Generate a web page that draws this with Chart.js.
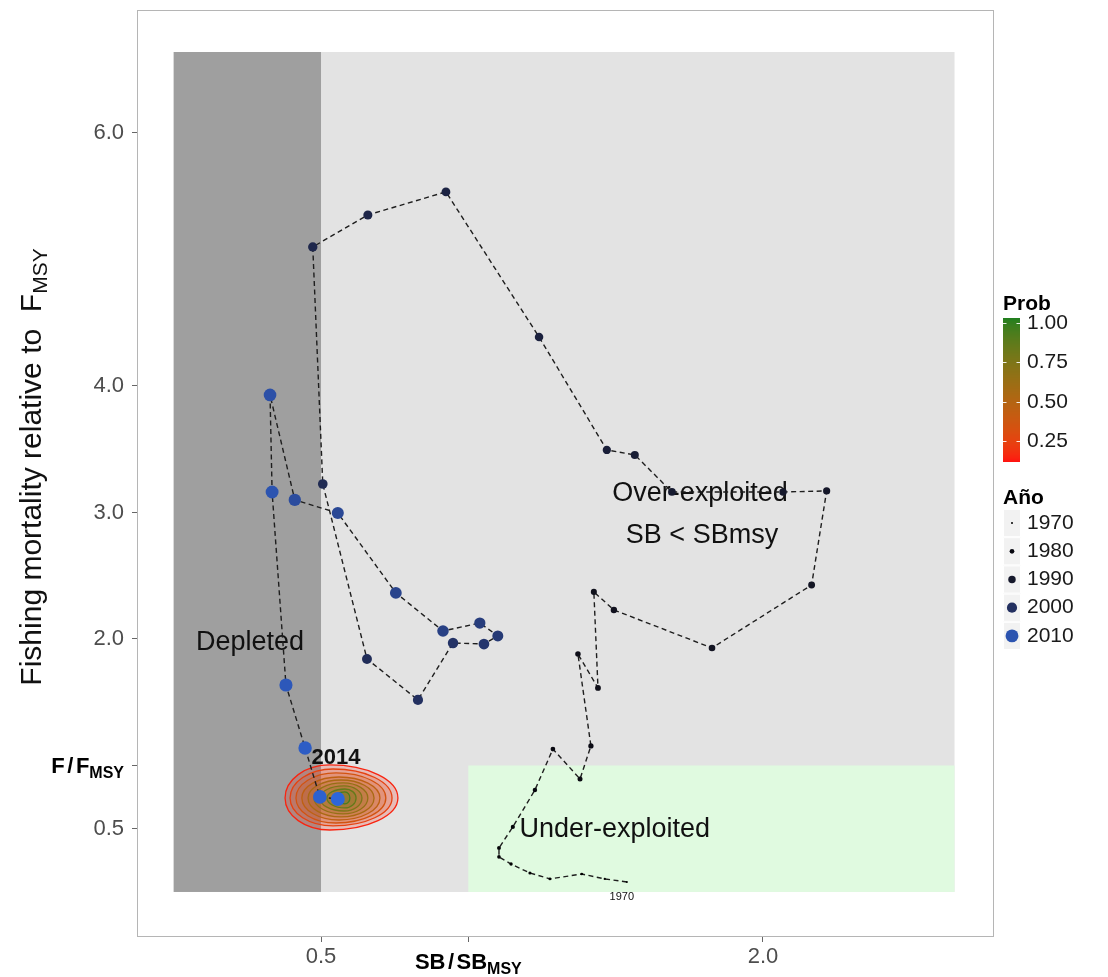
<!DOCTYPE html>
<html><head><meta charset="utf-8">
<script src="https://cdn.jsdelivr.net/npm/chart.js@4.4.1/dist/chart.umd.min.js"></script>
<style>html,body{margin:0;padding:0;background:#fff;}#wrap{width:1108px;height:977px;}</style>
</head><body><div id="wrap"><canvas id="c" width="1108" height="977"></canvas></div>
<script>
// ---------------- DATA ----------------
const years   = [1970,1971,1972,1973,1974,1975,1976,1977,1978,1979,
                 1980,1981,1982,1983,1984,1985,1986,1987,1988,1989,
                 1990,1991,1992,1993,1994,1995,1996,1997,1998,1999,
                 2000,2001,2002,2003,2004,2005,2006,2007,2008,2009,
                 2010,2011,2012,2013,2014];
const sbRatio = [1.538,1.463,1.385,1.277,1.209,1.145,1.104,1.104,1.151,1.226,
                 1.287,1.379,1.416,1.372,1.440,1.426,1.494,1.827,2.165,2.216,
                 2.068,1.691,1.565,1.470,1.240,0.924,0.659,0.472,0.506,0.656,
                 0.829,0.948,1.053,1.100,1.039,0.914,0.754,0.557,0.411,0.327,
                 0.334,0.381,0.446,0.496,0.557];
const fRatio  = [0.079,0.103,0.142,0.103,0.150,0.221,0.277,0.348,0.514,0.806,
                 1.130,0.893,1.154,1.881,1.613,2.372,2.229,1.929,2.427,3.170,
                 3.162,3.162,3.455,3.494,4.387,5.534,5.352,5.099,3.225,1.842,
                 1.518,1.968,1.960,2.024,2.126,2.063,2.364,2.996,3.099,3.929,
                 3.162,1.636,1.138,0.751,0.735];

const xTickValues = [0.5, 1.0, 2.0];
const xTickLabels = ['0.5', ['SB', '/', 'SB', 'MSY'], '2.0'];
const yTickValues = [0.5, 1.0, 2.0, 3.0, 4.0, 6.0];
const yTickLabels = ['0.5', ['F', '/', 'F', 'MSY'], '2.0', '3.0', '4.0', '6.0'];

// status zones (SB/SBmsy from-to, F/Fmsy from-to)
const zoneNames = ['Over-exploited', 'Depleted', 'Under-exploited'];
const zoneX0 = [0.0, 0.0, 1.0];
const zoneX1 = [2.65, 0.5, 2.65];
const zoneY0 = [0.0, 0.0, 0.0];
const zoneY1 = [6.64, 6.64, 1.0];

// 2014 probability contours (outer -> inner)
const contourProb   = [0.15,0.25,0.35,0.45,0.55,0.65,0.75,0.85,0.95];
const contourLeft   = [0.378,0.395,0.415,0.435,0.456,0.476,0.496,0.520,0.544];
const contourRight  = [0.761,0.741,0.720,0.700,0.680,0.659,0.639,0.619,0.598];
const contourTop    = [1.004,0.972,0.941,0.909,0.885,0.862,0.838,0.814,0.791];
const contourBottom = [0.490,0.522,0.545,0.569,0.593,0.617,0.640,0.664,0.696];
const contourCx     = [0.530,0.541,0.551,0.561,0.568,0.575,0.578,0.581,0.581];
const contourCy     = [0.743,0.743,0.743,0.743,0.743,0.743,0.743,0.743,0.743];

const probLegendTicks = [1.00, 0.75, 0.50, 0.25];
const probLegendRange = [0.12, 1.03];
const yearLegend = [1970, 1980, 1990, 2000, 2010];

// ---------------- STYLE ----------------
const FONT = '"Liberation Sans", Arial, Helvetica, sans-serif';
const X_MIN = -0.1245, X_MAX = 2.784, Y_MIN = -0.356, Y_MAX = 6.972;
const zoneColors = ['#e3e3e3', '#9f9f9f', '#e0fae0'];

function hex2rgb(h){return [parseInt(h.slice(1,3),16),parseInt(h.slice(3,5),16),parseInt(h.slice(5,7),16)];}
function lin(c){c/=255;return c<=0.04045?c/12.92:Math.pow((c+0.055)/1.055,2.4);}
function unlin(c){c=c<=0.0031308?12.92*c:1.055*Math.pow(c,1/2.4)-0.055;return Math.round(Math.max(0,Math.min(1,c))*255);}
function rgb2lab(rgb){const [r,g,b]=rgb.map(lin);const X=(0.4124*r+0.3576*g+0.1805*b)/0.95047,Y=(0.2126*r+0.7152*g+0.0722*b),Z=(0.0193*r+0.1192*g+0.9505*b)/1.08883;const f=t=>t>0.008856?Math.cbrt(t):7.787*t+16/116;const fx=f(X),fy=f(Y),fz=f(Z);return [116*fy-16,500*(fx-fy),200*(fy-fz)];}
function lab2rgb(l){const [L,a,b]=l;const fy=(L+16)/116,fx=fy+a/500,fz=fy-b/200;const g=t=>t*t*t>0.008856?t*t*t:(t-16/116)/7.787;const X=g(fx)*0.95047,Y=g(fy),Z=g(fz)*1.08883;const r=3.2406*X-1.5372*Y-0.4986*Z,gg=-0.9689*X+1.8758*Y+0.0415*Z,bb=0.0557*X-0.2040*Y+1.0570*Z;return [unlin(r),unlin(gg),unlin(bb)];}
function mixLab(h1,h2,t){const a=rgb2lab(hex2rgb(h1)),b=rgb2lab(hex2rgb(h2));return lab2rgb(a.map((v,i)=>v+(b[i]-v)*t));}
function rgbStr(c,a){return a===undefined?`rgb(${c[0]},${c[1]},${c[2]})`:`rgba(${c[0]},${c[1]},${c[2]},${a})`;}

const yr0 = years[0], yr1 = years[years.length-1];
function yearT(y){return (y-yr0)/(yr1-yr0);}
function yearColor(y){return rgbStr(mixLab('#000000','#2d66da',Math.pow(yearT(y),2.0)));}
function yearRadius(y){return 1.0 + 6.0*yearT(y);}
function probColor(p,a){const t=(p-probLegendRange[0])/(probLegendRange[1]-probLegendRange[0]);return rgbStr(mixLab('#ff1010','#1f7f1f',Math.max(0,Math.min(1,t))),a);}

function drawParts(ctx, parts, x, y, align){
  let w = 0;
  parts.forEach(p=>{ctx.font=p.font; p.w=ctx.measureText(p.t).width; w+=p.w+(p.gap||0);});
  let cx = align==='right' ? x-w : align==='center' ? x-w/2 : x;
  ctx.textAlign='left'; ctx.textBaseline='alphabetic';
  parts.forEach(p=>{ctx.font=p.font; cx+=(p.gap||0)/2; ctx.fillText(p.t,cx,y+(p.dy||0)); cx+=p.w+(p.gap||0)/2;});
}
function richParts(arr, size, subSize){
  return [
    {t:arr[0], font:`bold ${size}px ${FONT}`},
    {t:arr[1], font:`bold ${size}px ${FONT}`, gap:5},
    {t:arr[2], font:`bold ${size}px ${FONT}`},
    {t:arr[3], font:`bold ${subSize}px ${FONT}`, dy:5}
  ];
}

const bgPlugin = {
  id:'bg',
  beforeDatasetsDraw(chart){
    const {ctx, chartArea:a, scales:{x,y}} = chart;
    ctx.save();
    ctx.fillStyle='#ffffff'; ctx.fillRect(a.left,a.top,a.right-a.left,a.bottom-a.top);
    ctx.beginPath(); ctx.rect(a.left,a.top,a.right-a.left,a.bottom-a.top); ctx.clip();
    zoneNames.forEach((n,i)=>{
      const x0=x.getPixelForValue(zoneX0[i]), x1=x.getPixelForValue(zoneX1[i]);
      const y0=y.getPixelForValue(zoneY0[i]), y1=y.getPixelForValue(zoneY1[i]);
      ctx.fillStyle=zoneColors[i]; ctx.fillRect(x0,y1,x1-x0,y0-y1);
    });
    ctx.fillStyle='#111'; ctx.font=`27px ${FONT}`; ctx.textAlign='center'; ctx.textBaseline='middle';
    ctx.fillText('Depleted', x.getPixelForValue(0.259), y.getPixelForValue(1.968));
    ctx.fillText('Over-exploited', x.getPixelForValue(1.786), y.getPixelForValue(3.146));
    ctx.fillText('SB < SBmsy', x.getPixelForValue(1.793), y.getPixelForValue(2.814));
    ctx.fillText('Under-exploited', x.getPixelForValue(1.497), y.getPixelForValue(0.49));
    const k=0.5523;
    contourProb.forEach((p,i)=>{
      const L=x.getPixelForValue(contourLeft[i]), R=x.getPixelForValue(contourRight[i]);
      const T=y.getPixelForValue(contourTop[i]), B=y.getPixelForValue(contourBottom[i]);
      const cx=x.getPixelForValue(contourCx[i]), cy=y.getPixelForValue(contourCy[i]);
      ctx.beginPath();
      ctx.moveTo(L,cy);
      ctx.bezierCurveTo(L,cy-k*(cy-T), cx-k*(cx-L),T, cx,T);
      ctx.bezierCurveTo(cx+k*(R-cx),T, R,cy-k*(cy-T), R,cy);
      ctx.bezierCurveTo(R,cy+k*(B-cy), cx+k*(R-cx),B, cx,B);
      ctx.bezierCurveTo(cx-k*(cx-L),B, L,cy+k*(B-cy), L,cy);
      ctx.closePath();
      ctx.fillStyle=probColor(p,0.2); ctx.fill();
      ctx.strokeStyle=probColor(p); ctx.lineWidth=1.3; ctx.stroke();
    });
    ctx.restore();
  },
  afterDatasetsDraw(chart){
    const {ctx, chartArea:a, scales:{x,y}} = chart;
    ctx.save();
    ctx.fillStyle='#111'; ctx.textAlign='center'; ctx.textBaseline='middle';
    ctx.font=`bold 22px ${FONT}`;
    ctx.fillText(String(yr1), x.getPixelForValue(0.551), y.getPixelForValue(1.059));
    ctx.font=`11px ${FONT}`;
    ctx.fillText(String(yr0), x.getPixelForValue(1.521), y.getPixelForValue(-0.04));
    ctx.strokeStyle='#b5b5b5'; ctx.lineWidth=1;
    ctx.strokeRect(a.left+0.5,a.top+0.5,a.right-a.left-1,a.bottom-a.top-1);
    ctx.restore();
  },
  afterDraw(chart){
    const {ctx, chartArea:a, scales:{x,y}} = chart;
    ctx.save();
    ctx.fillStyle='#000';
    xTickValues.forEach((v,i)=>{
      const l=xTickLabels[i]; if(!Array.isArray(l)) return;
      drawParts(ctx, richParts(l,22,16), x.getPixelForValue(v), a.bottom+32, 'center');
    });
    yTickValues.forEach((v,i)=>{
      const l=yTickLabels[i]; if(!Array.isArray(l)) return;
      drawParts(ctx, richParts(l,22,16), a.left-13, y.getPixelForValue(v)+8, 'right');
    });
    ctx.save();
    ctx.translate(31, 467); ctx.rotate(-Math.PI/2);
    ctx.fillStyle='#111';
    drawParts(ctx, [
      {t:'Fishing mortality relative to  F', font:`30px ${FONT}`},
      {t:'MSY', font:`21px ${FONT}`, dy:6}
    ], 0, 10, 'center');
    ctx.restore();
    const lx=1003;
    ctx.fillStyle='#000'; ctx.font=`bold 21px ${FONT}`; ctx.textAlign='left'; ctx.textBaseline='middle';
    ctx.fillText('Prob', lx, 304);
    const barTop=318, barBot=462, barW=17;
    const pToY = p => barTop + (probLegendRange[1]-p)/(probLegendRange[1]-probLegendRange[0])*(barBot-barTop);
    for(let yy=barTop; yy<barBot; yy++){
      const p = probLegendRange[1] - (yy+0.5-barTop)/(barBot-barTop)*(probLegendRange[1]-probLegendRange[0]);
      ctx.fillStyle=probColor(p); ctx.fillRect(lx,yy,barW,1);
    }
    ctx.strokeStyle='rgba(255,255,255,0.9)'; ctx.lineWidth=1;
    ctx.font=`21px ${FONT}`; ctx.fillStyle='#1a1a1a';
    probLegendTicks.forEach(p=>{
      const py=Math.round(pToY(p))+0.5;
      ctx.beginPath(); ctx.moveTo(lx,py); ctx.lineTo(lx+3.5,py); ctx.moveTo(lx+barW-3.5,py); ctx.lineTo(lx+barW,py); ctx.stroke();
      ctx.fillText(p.toFixed(2), lx+24, py);
    });
    ctx.fillStyle='#000'; ctx.font=`bold 21px ${FONT}`;
    ctx.fillText('Año', lx, 498);
    const keyTop=509, keyH=28.2, keyW=18;
    yearLegend.forEach((yv,i)=>{
      const ky=keyTop+i*keyH;
      ctx.fillStyle='#f2f2f2'; ctx.fillRect(lx,ky,keyW,keyH);
      ctx.strokeStyle='#ffffff'; ctx.lineWidth=1; ctx.strokeRect(lx+0.5,ky+0.5,keyW-1,keyH-1);
      ctx.beginPath(); ctx.arc(lx+keyW/2, ky+keyH/2, yearRadius(yv), 0, Math.PI*2);
      ctx.fillStyle=yearColor(yv); ctx.fill();
      ctx.fillStyle='#1a1a1a'; ctx.font=`21px ${FONT}`;
      ctx.fillText(String(yv), lx+24, ky+keyH/2);
    });
    ctx.restore();
  }
};

new Chart(document.getElementById('c').getContext('2d'), {
  type:'scatter',
  data:{datasets:[{
    label:'Trayectoria',
    data: years.map((yv,i)=>({x:sbRatio[i], y:fRatio[i]})),
    showLine:true,
    borderColor:'#1e1e1e', borderWidth:1.4, borderDash:[5,3.5],
    pointRadius: years.map(yearRadius),
    pointBackgroundColor: years.map(yearColor),
    pointBorderWidth:0,
    tension:0
  }]},
  options:{
    responsive:false, animation:false, events:[],
    layout:{padding:{top:10,right:114,left:0,bottom:0}},
    plugins:{legend:{display:false}, tooltip:{enabled:false}},
    scales:{
      x:{type:'linear', min:X_MIN, max:X_MAX,
         afterBuildTicks:s=>{s.ticks=xTickValues.map(v=>({value:v}));},
         afterFit:s=>{s.height=40; s.paddingLeft=0; s.paddingRight=0;},
         grid:{drawOnChartArea:false, drawTicks:true, tickLength:5, color:'#666'},
         border:{display:false},
         ticks:{autoSkip:false, maxRotation:0, padding:2, color:'#4d4d4d', font:{family:FONT,size:22},
           callback:v=>{const i=xTickValues.indexOf(v); const l=xTickLabels[i]; return Array.isArray(l)?'':l;}}},
      y:{type:'linear', min:Y_MIN, max:Y_MAX,
         afterBuildTicks:s=>{s.ticks=yTickValues.map(v=>({value:v}));},
         afterFit:s=>{s.width=137; s.paddingTop=0; s.paddingBottom=0;},
         grid:{drawOnChartArea:false, drawTicks:true, tickLength:5, color:'#666'},
         border:{display:false},
         ticks:{autoSkip:false, padding:8, color:'#4d4d4d', font:{family:FONT,size:22},
           callback:v=>{const i=yTickValues.indexOf(v); const l=yTickLabels[i]; return Array.isArray(l)?'':l;}}}
    }
  },
  plugins:[bgPlugin]
});
</script></body></html>
